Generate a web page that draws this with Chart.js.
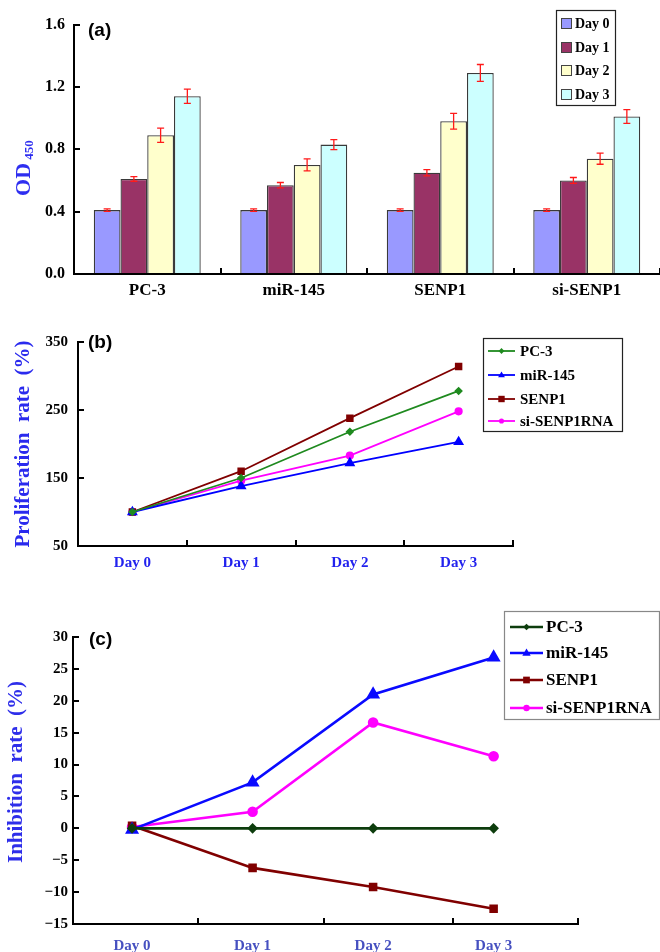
<!DOCTYPE html>
<html><head><meta charset="utf-8">
<script src="https://cdn.jsdelivr.net/npm/chart.js@4.4.0/dist/chart.umd.min.js"></script>
<style>
html,body{margin:0;padding:0;background:#fff;}
#wrap{position:relative;width:660px;height:952px;overflow:hidden;background:#fff;}
canvas{position:absolute;left:0;}
</style></head><body>
<div id="wrap">
<canvas id="ca" width="660" height="300" style="top:0px"></canvas>
<canvas id="cb" width="660" height="285" style="top:300px"></canvas>
<canvas id="cc" width="660" height="367" style="top:585px"></canvas>
</div>
<script>
// ---------- DATA ----------
const groups = ['PC-3', 'miR-145', 'SENP1', 'si-SENP1'];
const dayLabels = ['Day 0', 'Day 1', 'Day 2', 'Day 3'];

// (a) OD450 values per day, per group
const odDay0 = [0.41, 0.41, 0.41, 0.41];
const odDay1 = [0.61, 0.57, 0.65, 0.60];
const odDay2 = [0.89, 0.70, 0.98, 0.74];
const odDay3 = [1.14, 0.83, 1.29, 1.01];
const errDay0 = [0.008, 0.008, 0.008, 0.008];
const errDay1 = [0.015, 0.017, 0.02, 0.019];
const errDay2 = [0.046, 0.039, 0.05, 0.036];
const errDay3 = [0.046, 0.032, 0.054, 0.044];

// (b) proliferation rate (%)
const seriesNames = ['PC-3', 'miR-145', 'SENP1', 'si-SENP1RNA'];
const prolifPC3 = [100, 150, 218, 278];
const prolifMiR = [100, 138, 172, 203];
const prolifSENP1 = [100, 160, 238, 314];
const prolifSi = [100, 146, 183, 248];

// (c) inhibition rate (%)
const inhibPC3 = [0, 0, 0, 0];
const inhibMiR = [-0.2, 7.2, 21.0, 26.8];
const inhibSENP1 = [0.4, -6.2, -9.2, -12.6];
const inhibSi = [0.2, 2.6, 16.6, 11.3];
const dayIndex = [0, 1, 2, 3];
const dayBoundariesC = [0.55, 1.59, 2.66, 3.7];

// ---------- STYLE HELPERS ----------
const SERIF = "'Liberation Serif','Times New Roman',serif";
const SANS = "'Liberation Sans',Arial,sans-serif";
Chart.defaults.font.family = SERIF;
Chart.defaults.color = '#000';

function drawMarker(ctx, style, x, y, r, color) {
  ctx.save();
  ctx.fillStyle = color; ctx.beginPath();
  if (style === 'rect') { ctx.rect(x - r, y - r, 2 * r, 2 * r); }
  else if (style === 'rectRot') { const q = r * 1.2; ctx.moveTo(x, y - q); ctx.lineTo(x + q, y); ctx.lineTo(x, y + q); ctx.lineTo(x - q, y); ctx.closePath(); }
  else if (style === 'triangle') { ctx.moveTo(x, y - r); ctx.lineTo(x + r * 0.95, y + r * 0.65); ctx.lineTo(x - r * 0.95, y + r * 0.65); ctx.closePath(); }
  else { ctx.arc(x, y, r, 0, Math.PI * 2); }
  ctx.fill(); ctx.restore();
}

const errorBars = {
  id: 'errorBars',
  afterDatasetsDraw(chart) {
    const ctx = chart.ctx, ys = chart.scales.y;
    chart.data.datasets.forEach((ds, i) => {
      if (!ds.errors) return;
      const meta = chart.getDatasetMeta(i);
      meta.data.forEach((bar, j) => {
        const v = ds.data[j], e = ds.errors[j];
        const yt = ys.getPixelForValue(v + e), yb = ys.getPixelForValue(v - e);
        const x = bar.x;
        ctx.save(); ctx.strokeStyle = '#ff1a1a'; ctx.lineWidth = 1.3;
        ctx.beginPath();
        ctx.moveTo(x, yt); ctx.lineTo(x, yb);
        ctx.moveTo(x - 3.5, yt); ctx.lineTo(x + 3.5, yt);
        ctx.moveTo(x - 3.5, yb); ctx.lineTo(x + 3.5, yb);
        ctx.stroke(); ctx.restore();
      });
    });
  }
};

const decor = {
  id: 'decor',
  afterDraw(chart, args, o) {
    const ctx = chart.ctx;
    if (o.letter) {
      ctx.save();
      ctx.font = 'bold ' + o.letter.size + 'px ' + SANS;
      ctx.fillStyle = '#000'; ctx.textAlign = 'left'; ctx.textBaseline = 'middle';
      ctx.fillText(o.letter.text, o.letter.x, o.letter.y);
      ctx.restore();
    }
    if (o.ytitle) {
      const t = o.ytitle;
      ctx.save();
      ctx.translate(t.x, t.y); ctx.rotate(-Math.PI / 2);
      ctx.fillStyle = t.color; ctx.textBaseline = 'middle'; ctx.textAlign = 'left';
      const widths = [];
      let total = 0;
      t.parts.forEach(p => { ctx.font = 'bold ' + p.size + 'px ' + SERIF; const w = ctx.measureText(p.text).width; widths.push(w); total += w; });
      let cx = -total / 2;
      t.parts.forEach((p, k) => { ctx.font = 'bold ' + p.size + 'px ' + SERIF; ctx.fillText(p.text, cx, p.dy || 0); cx += widths[k]; });
      ctx.restore();
    }
    const L = o.legend;
    if (L) {
      ctx.save();
      ctx.fillStyle = '#fff'; ctx.fillRect(L.x, L.y, L.w, L.h);
      ctx.strokeStyle = L.border; ctx.lineWidth = 1.2; ctx.strokeRect(L.x + 0.5, L.y + 0.5, L.w, L.h);
      ctx.font = 'bold ' + L.size + 'px ' + SERIF; ctx.textBaseline = 'middle'; ctx.textAlign = 'left';
      chart.data.datasets.forEach((ds, i) => {
        const yy = L.rows[i];
        if (L.kind === 'swatch') {
          ctx.fillStyle = ds.backgroundColor; ctx.fillRect(L.sx, yy - 5, 10, 10);
          ctx.strokeStyle = '#444'; ctx.lineWidth = 1; ctx.strokeRect(L.sx + 0.5, yy - 4.5, 10, 10);
        } else {
          ctx.strokeStyle = ds.borderColor; ctx.lineWidth = ds.borderWidth;
          ctx.beginPath(); ctx.moveTo(L.sx, yy); ctx.lineTo(L.sx + L.sw, yy); ctx.stroke();
          drawMarker(ctx, ds.pointStyle, L.sx + L.sw / 2, yy, ds.pointRadius * 0.8, ds.borderColor);
        }
        ctx.fillStyle = '#000'; ctx.fillText(ds.label, L.tx, yy + 1);
      });
      ctx.restore();
    }
  }
};

const base = { responsive: false, animation: false, devicePixelRatio: 1 };

// ---------- (a) BAR CHART ----------
const barColors = ['#9999ff', '#993366', '#ffffcc', '#ccffff'];
const odSeries = [odDay0, odDay1, odDay2, odDay3];
const errSeries = [errDay0, errDay1, errDay2, errDay3];
new Chart(document.getElementById('ca'), {
  type: 'bar',
  data: {
    labels: groups,
    datasets: dayLabels.map((d, i) => ({
      label: d, data: odSeries[i], errors: errSeries[i],
      backgroundColor: barColors[i], borderColor: '#3a3a3a', borderWidth: 1.3,
      categoryPercentage: 0.73, barPercentage: 1.0
    }))
  },
  options: Object.assign({}, base, {
    layout: { padding: { top: 23, left: 0, right: -6, bottom: 0 } },
    plugins: {
      legend: { display: false }, tooltip: { enabled: false },
      decor: {
        letter: { text: '(a)', x: 88, y: 31, size: 19 },
        ytitle: { x: 24, y: 168, color: '#2e2ef0', parts: [{ text: 'OD', size: 22 }, { text: ' 450', size: 13, dy: 6 }] },
        legend: { kind: 'swatch', x: 556, y: 10, w: 59, h: 95, sx: 561, tx: 575, size: 14, border: '#222', rows: [23, 47, 70, 94] }
      }
    },
    scales: {
      x: {
        grid: { offset: true, drawOnChartArea: false, drawTicks: true, tickLength: -6, color: '#000', lineWidth: 2 },
        border: { display: true, color: '#000', width: 2 },
        ticks: { font: { size: 17, weight: 'bold' }, color: '#000', padding: 12 },
        afterFit: s => { s.height = 26; }
      },
      y: {
        min: 0, max: 1.6,
        ticks: { stepSize: 0.4, font: { size: 16, weight: 'bold' }, color: '#000', padding: 15, callback: v => Number(v).toFixed(1) },
        grid: { drawOnChartArea: false, drawTicks: true, tickLength: -6, color: '#000', lineWidth: 2 },
        border: { display: true, color: '#000', width: 2 },
        afterFit: s => { s.width = 74; }
      }
    }
  }),
  plugins: [errorBars, decor]
});

// ---------- (b) PROLIFERATION ----------
const lineStyles = [
  { color: '#1f8a1f', style: 'rectRot', r: 3 },
  { color: '#0000ff', style: 'triangle', r: 4.5 },
  { color: '#800000', style: 'rect', r: 4 },
  { color: '#ff00ff', style: 'circle', r: 3.2 }
];
const prolifSeries = [prolifPC3, prolifMiR, prolifSENP1, prolifSi];
new Chart(document.getElementById('cb'), {
  type: 'line',
  data: {
    labels: dayLabels,
    datasets: seriesNames.map((n, i) => ({
      label: n, data: prolifSeries[i],
      borderColor: lineStyles[i].color, backgroundColor: lineStyles[i].color,
      pointBackgroundColor: lineStyles[i].color, pointBorderColor: lineStyles[i].color,
      pointStyle: lineStyles[i].style, pointRadius: lineStyles[i].r, borderWidth: 1.8, tension: 0
    }))
  },
  options: Object.assign({}, base, {
    layout: { padding: { top: 42, left: 0, right: 147, bottom: 0 } },
    plugins: {
      legend: { display: false }, tooltip: { enabled: false },
      decor: {
        letter: { text: '(b)', x: 88, y: 43, size: 19 },
        ytitle: { x: 23.5, y: 144, color: '#2a2aee', parts: [{ text: 'Proliferation  rate  (%)', size: 21 }] },
        legend: { kind: 'line', x: 483, y: 38, w: 139, h: 93, sx: 488, sw: 27, tx: 520, size: 15, border: '#222', rows: [51, 75, 99, 121] }
      }
    },
    scales: {
      x: {
        offset: true,
        grid: { offset: true, drawOnChartArea: false, drawTicks: true, tickLength: -6, color: '#000', lineWidth: 2 },
        border: { display: true, color: '#000', width: 2 },
        ticks: { font: { size: 15, weight: 'bold' }, color: '#2222ee', padding: 14 },
        afterFit: s => { s.height = 39; }
      },
      y: {
        min: 50, max: 350,
        ticks: { stepSize: 100, font: { size: 15, weight: 'bold' }, color: '#000', padding: 16 },
        grid: { drawOnChartArea: false, drawTicks: true, tickLength: -6, color: '#000', lineWidth: 2 },
        border: { display: true, color: '#000', width: 2 },
        afterFit: s => { s.width = 78; }
      }
    }
  }),
  plugins: [decor]
});

// ---------- (c) INHIBITION ----------
const lineStylesC = [
  { color: '#0d3d0d', style: 'rectRot', r: 3.5 },
  { color: '#0a0aff', style: 'triangle', r: 5.5 },
  { color: '#800000', style: 'rect', r: 4.2 },
  { color: '#ff00ff', style: 'circle', r: 4 }
];
const inhibSeries = [inhibPC3, inhibMiR, inhibSENP1, inhibSi];
const xTicksC = dayIndex.concat(dayBoundariesC).sort((a, b) => a - b);
const isDay = v => dayIndex.indexOf(v) >= 0;
new Chart(document.getElementById('cc'), {
  type: 'line',
  data: {
    datasets: seriesNames.map((n, i) => ({
      label: n, data: inhibSeries[i].map((v, k) => ({ x: dayIndex[k], y: v })),
      borderColor: lineStylesC[i].color, backgroundColor: lineStylesC[i].color,
      pointBackgroundColor: lineStylesC[i].color, pointBorderColor: lineStylesC[i].color,
      pointStyle: lineStylesC[i].style, pointRadius: lineStylesC[i].r, borderWidth: 2.6, tension: 0
    }))
  },
  options: Object.assign({}, base, {
    layout: { padding: { top: 52, left: 0, right: 82, bottom: 0 } },
    plugins: {
      legend: { display: false }, tooltip: { enabled: false },
      decor: {
        letter: { text: '(c)', x: 89, y: 55, size: 19 },
        ytitle: { x: 17, y: 187, color: '#2e2eea', parts: [{ text: 'Inhibition  rate  (%)', size: 21 }] },
        legend: { kind: 'line', x: 504, y: 26, w: 155, h: 108, sx: 510, sw: 33, tx: 546, size: 17, border: '#888', rows: [42, 68, 95, 123] }
      }
    },
    scales: {
      x: {
        type: 'linear', min: -0.49, max: 3.7,
        afterBuildTicks: s => { s.ticks = xTicksC.map(v => ({ value: v })); },
        ticks: { autoSkip: false, maxRotation: 0, font: { size: 15, weight: 'bold' }, color: '#4650c0', padding: 19,
                 callback: v => (isDay(v) ? dayLabels[dayIndex.indexOf(v)] : '') },
        grid: { drawOnChartArea: false, drawTicks: true, tickLength: -6, lineWidth: 2,
                color: c => (c.tick && isDay(c.tick.value) ? 'rgba(0,0,0,0)' : '#000') },
        border: { display: true, color: '#000', width: 2 },
        afterFit: s => { s.height = 28; }
      },
      y: {
        min: -15, max: 30,
        ticks: { stepSize: 5, font: { size: 15, weight: 'bold' }, color: '#000', padding: 11, callback: v => (v < 0 ? '\u2212' + Math.abs(v) : String(v)) },
        grid: { drawOnChartArea: false, drawTicks: true, tickLength: -6, color: '#000', lineWidth: 2 },
        border: { display: true, color: '#000', width: 2 },
        afterFit: s => { s.width = 73; }
      }
    }
  }),
  plugins: [decor]
});
</script>
</body></html>
